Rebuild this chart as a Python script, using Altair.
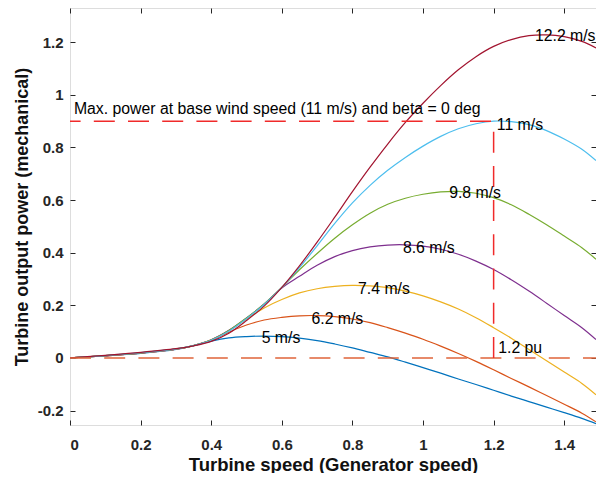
import altair as alt
import pandas as pd

# ---- data ----
speed = [0, 0.1, 0.2, 0.3, 0.35, 0.4, 0.45, 0.5, 0.55, 0.6, 0.65, 0.7, 0.75, 0.8,
         0.85, 0.9, 0.95, 1.0, 1.05, 1.1, 1.15, 1.2, 1.25, 1.3, 1.35, 1.4, 1.45, 1.49]

p_5_0 = [0, 0.008, 0.017, 0.032, 0.047, 0.064, 0.076, 0.081, 0.083, 0.081, 0.075, 0.066, 0.053, 0.038,
         0.021, 0.004, -0.016, -0.037, -0.058, -0.080, -0.101, -0.123, -0.145, -0.166, -0.187, -0.208, -0.230, -0.250]
p_6_2 = [0, 0.008, 0.018, 0.033, 0.047, 0.067, 0.098, 0.125, 0.144, 0.154, 0.160, 0.161, 0.157, 0.148,
         0.134, 0.115, 0.094, 0.071, 0.045, 0.017, -0.013, -0.045, -0.078, -0.110, -0.143, -0.176, -0.210, -0.243]
p_7_4 = [0, 0.008, 0.018, 0.033, 0.047, 0.069, 0.103, 0.148, 0.190, 0.222, 0.247, 0.263, 0.272, 0.276,
         0.274, 0.267, 0.254, 0.236, 0.213, 0.186, 0.153, 0.115, 0.075, 0.032, -0.011, -0.054, -0.097, -0.140]
p_8_6 = [0, 0.008, 0.018, 0.033, 0.047, 0.069, 0.105, 0.152, 0.205, 0.266, 0.310, 0.352, 0.385, 0.408,
         0.422, 0.429, 0.430, 0.425, 0.413, 0.394, 0.368, 0.336, 0.297, 0.254, 0.208, 0.161, 0.115, 0.070]
p_9_8 = [0, 0.009, 0.019, 0.034, 0.047, 0.068, 0.104, 0.152, 0.205, 0.268, 0.335, 0.397, 0.455, 0.506,
         0.550, 0.584, 0.607, 0.622, 0.631, 0.633, 0.626, 0.609, 0.582, 0.546, 0.506, 0.463, 0.419, 0.375]
p_11_0 = [0, 0.009, 0.020, 0.034, 0.047, 0.067, 0.101, 0.149, 0.203, 0.268, 0.343, 0.426, 0.511, 0.589,
          0.656, 0.713, 0.762, 0.805, 0.842, 0.871, 0.890, 0.900, 0.898, 0.887, 0.864, 0.832, 0.793, 0.750]
p_12_2 = [0, 0.010, 0.021, 0.035, 0.046, 0.063, 0.094, 0.142, 0.197, 0.268, 0.350, 0.440, 0.535, 0.632,
          0.725, 0.813, 0.895, 0.968, 1.035, 1.095, 1.145, 1.184, 1.210, 1.225, 1.228, 1.221, 1.203, 1.178]

wind_names = ["5 m/s", "6.2 m/s", "7.4 m/s", "8.6 m/s", "9.8 m/s", "11 m/s", "12.2 m/s"]
series = [p_5_0, p_6_2, p_7_4, p_8_6, p_9_8, p_11_0, p_12_2]
colors = ["#0072BD", "#D95319", "#EDB120", "#7E2F8E", "#77AC30", "#4DBEEE", "#A2142F"]

# label positions (data coords) for the annotations
label_text = ["5 m/s", "6.2 m/s", "7.4 m/s", "8.6 m/s", "9.8 m/s", "11 m/s", "12.2 m/s",
              "1.2 pu", "Max. power at base wind speed (11 m/s) and beta = 0 deg"]
label_x = [0.543, 0.684, 0.816, 0.943, 1.074, 1.209, 1.317, 1.213, 0.011]
label_y = [0.074, 0.147, 0.263, 0.419, 0.628, 0.886, 1.222, 0.039, 0.945]

# dashed reference lines
ref_x = [1.2, 1.2, 0]
ref_y = [0, 0.9, 0.9]
zero_x = [0, 1.49]
zero_y = [0, 0]

x_ticks = [0, 0.2, 0.4, 0.6, 0.8, 1, 1.2, 1.4]
y_ticks = [-0.2, 0, 0.2, 0.4, 0.6, 0.8, 1, 1.2]

# ---- tables ----
rows = []
for name, vals in zip(wind_names, series):
    for sx, py in zip(speed, vals):
        rows.append({"speed": sx, "power": py, "wind": name})
df = pd.DataFrame(rows)
df_ref = pd.DataFrame({"speed": ref_x, "power": ref_y, "step": list(range(len(ref_x)))})
df_zero = pd.DataFrame({"speed": zero_x, "power": zero_y, "step": list(range(len(zero_x)))})
df_lab = pd.DataFrame({"speed": label_x, "power": label_y, "label": label_text})

FONT = "Liberation Sans"
AX = "#262626"
xs = alt.Scale(domain=[0, 1.49], nice=False, zero=False)
ys = alt.Scale(domain=[-0.255, 1.33], nice=False, zero=False)
lab_expr = "replace(format(datum.value, '~g'), '\u2212', '-')"

x_bottom = alt.Axis(values=x_ticks, labelExpr=lab_expr, title="Turbine speed (Generator speed)",
                    orient="bottom", offset=-5, tickSize=5, domain=False, grid=False,
                    tickColor=AX, labelColor=AX, titleColor="#111111",
                    labelFont=FONT, labelFontSize=15, labelFontWeight="bold", labelPadding=12,
                    titleFont=FONT, titleFontSize=18.5, titleFontWeight="bold",
                    titleBaseline="alphabetic", titleY=50)
y_left = alt.Axis(values=y_ticks, labelExpr=lab_expr, title="Turbine output power (mechanical)",
                  orient="left", offset=-5, tickSize=5, domain=False, grid=False,
                  tickColor=AX, labelColor=AX, titleColor="#111111",
                  labelFont=FONT, labelFontSize=15, labelFontWeight="bold", labelPadding=7,
                  titleFont=FONT, titleFontSize=18, titleFontWeight="bold",
                  titleAngle=270, titleBaseline="alphabetic", titleX=-48)
x_top = alt.Axis(values=x_ticks, orient="top", offset=-5, tickSize=5, domain=False, grid=False,
                 labels=False, title=None, tickColor=AX)
y_right = alt.Axis(values=y_ticks, orient="right", offset=-5, tickSize=5, domain=False, grid=False,
                   labels=False, title=None, tickColor=AX)

curves = alt.Chart(df).mark_line(strokeWidth=1.2, interpolate="catmull-rom", clip=True).encode(
    x=alt.X("speed:Q", scale=xs, axis=x_bottom),
    y=alt.Y("power:Q", scale=ys, axis=y_left),
    color=alt.Color("wind:N", scale=alt.Scale(domain=wind_names, range=colors), legend=None),
)

zero_line = alt.Chart(df_zero).mark_line(color="#E0643A", strokeWidth=1.5, strokeDash=[21, 13.2]).encode(
    x=alt.X("speed:Q", scale=xs, axis=x_top),
    y=alt.Y("power:Q", scale=ys, axis=y_right),
    order="step:Q",
)

ref_line = alt.Chart(df_ref).mark_line(color="#F02A2A", strokeWidth=1.5, strokeDash=[21, 13.2]).encode(
    x=alt.X("speed:Q", scale=xs, axis=None),
    y=alt.Y("power:Q", scale=ys, axis=None),
    order="step:Q",
)

labels = alt.Chart(df_lab).mark_text(align="left", baseline="middle", font=FONT, fontSize=15.8,
                                     color="#000000").encode(
    x=alt.X("speed:Q", scale=xs, axis=None),
    y=alt.Y("power:Q", scale=ys, axis=None),
    text="label:N",
)

chart = alt.layer(curves, zero_line, ref_line, labels).resolve_axis(
    x="independent", y="independent"
).properties(
    width=526, height=417,
    autosize=alt.AutoSizeParams(type="none"),
    padding={"left": 62, "top": 0, "right": 0, "bottom": 48},
).configure_view(stroke=AX, strokeWidth=1).configure(background="white")

chart.save("out.html", embed_options={"renderer": "svg", "actions": False})
